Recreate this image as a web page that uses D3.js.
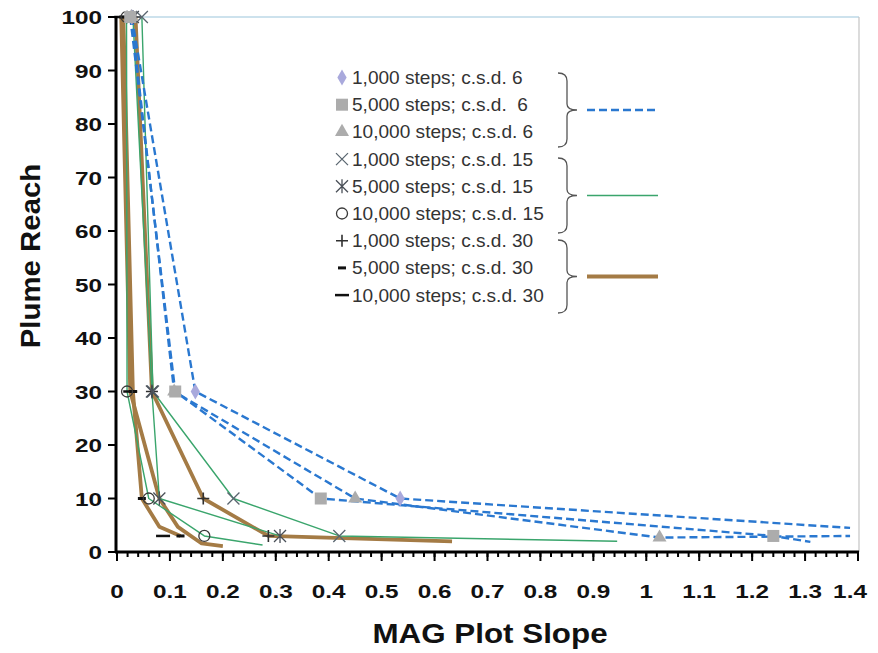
<!DOCTYPE html>
<html>
<head>
<meta charset="utf-8">
<script src="https://cdn.jsdelivr.net/npm/d3@7"></script>
<style>
  body { margin: 0; background: #fff; }
  svg { display: block; font-family: "Liberation Sans", Arial, sans-serif; }
</style>
</head>
<body>
<svg id="chart" width="878" height="653"></svg>
<script>
// x ticks / y ticks
var xTicks = [0, 0.1, 0.2, 0.3, 0.4, 0.5, 0.6, 0.7, 0.8, 0.9, 1, 1.1, 1.2, 1.3, 1.4]
var yTicks = [0, 10, 20, 30, 40, 50, 60, 70, 80, 90, 100]

// each point: [MAG plot slope, plume reach, marker drawn (1/0)]
// c.s.d. 6
var steps1000csd6 = [[0.028, 100, 1], [0.148, 30, 1], [0.535, 10, 1], [1.385, 4.5, 0]]
var steps5000csd6 = [[0.025, 100, 1], [0.11, 30, 1], [0.385, 10, 1], [1.24, 3, 1], [1.31, 1.9, 0]]
var steps10000csd6 = [[0.027, 100, 1], [0.108, 30, 1], [0.45, 10, 1], [1.025, 2.7, 1], [1.385, 3, 0]]
// c.s.d. 15
var steps1000csd15 = [[0.047, 100, 1], [0.068, 30, 1], [0.22, 10, 1], [0.42, 3, 1], [0.945, 2, 0]]
var steps5000csd15 = [[0.03, 100, 1], [0.066, 30, 1], [0.08, 10, 1], [0.308, 3, 1]]
var steps10000csd15 = [[0.018, 100, 1], [0.019, 30, 1], [0.06, 10, 1], [0.165, 3, 1], [0.275, 1.3, 0]]
// c.s.d. 30
var steps1000csd30 = [[0.035, 100, 1], [0.066, 30, 1], [0.163, 10, 1], [0.286, 3, 1], [0.633, 2, 0]]
var steps5000csd30 = [[0.012, 100, 1], [0.03, 30, 1], [0.047, 10, 1], [0.08, 4.7, 0], [0.12, 3, 1]]
var steps10000csd30 = [[0.008, 100, 1], [0.025, 30, 1], [0.087, 3, 1]]
var steps10000csd30Line = [[0.008, 100], [0.025, 30], [0.08, 10], [0.115, 4.7], [0.16, 1.6], [0.2, 1.1]]

var legendLabels = ["1,000 steps; c.s.d. 6", "5,000 steps; c.s.d.  6", "10,000 steps; c.s.d. 6",
  "1,000 steps; c.s.d. 15", "5,000 steps; c.s.d. 15", "10,000 steps; c.s.d. 15",
  "1,000 steps; c.s.d. 30", "5,000 steps; c.s.d. 30", "10,000 steps; c.s.d. 30"]

var groupStyle = {
  6: {color: "#2a78d0", width: 2.4, dash: "8,4"},
  15: {color: "#3aa56c", width: 1.4, dash: null},
  30: {color: "#a47b45", width: 3.8, dash: null}
}

var series = [
  {pts: steps1000csd6, csd: 6, marker: "diamond"},
  {pts: steps5000csd6, csd: 6, marker: "square"},
  {pts: steps10000csd6, csd: 6, marker: "triangle"},
  {pts: steps1000csd15, csd: 15, marker: "x"},
  {pts: steps5000csd15, csd: 15, marker: "asterisk"},
  {pts: steps10000csd15, csd: 15, marker: "circle"},
  {pts: steps1000csd30, csd: 30, marker: "plus"},
  {pts: steps5000csd30, csd: 30, marker: "dash"},
  {pts: steps10000csd30, line: steps10000csd30Line, csd: 30, marker: "longdash"}
]

var svg = d3.select("#chart")
var x = d3.scaleLinear().domain([0, 1.4]).range([117, 858])
var y = d3.scaleLinear().domain([0, 100]).range([552, 17])

// plot area border (top/right)
svg.append("line").attr("x1", 117).attr("x2", 859).attr("y1", 17).attr("y2", 17)
   .attr("stroke", "#9cc6dc").attr("stroke-width", 1.2)
svg.append("line").attr("x1", 859).attr("x2", 859).attr("y1", 17).attr("y2", 552)
   .attr("stroke", "#c4c4c4").attr("stroke-width", 1.2)

var line = d3.line().x(d => x(d[0])).y(d => y(d[1]))

// brown first, then green, blue on top
var drawOrder = [6, 7, 8, 3, 4, 5, 0, 1, 2]
drawOrder.forEach(function(i) {
  var s = series[i]
  var st = groupStyle[s.csd]
  svg.append("path")
     .attr("d", line(s.line || s.pts))
     .attr("fill", "none")
     .attr("stroke", st.color)
     .attr("stroke-width", st.width)
     .attr("stroke-dasharray", st.dash)
     .attr("stroke-linejoin", "round")
})

function drawMarker(g, type, cx, cy) {
  if (type === "diamond") {
    g.append("path").attr("d", d3.symbol(d3.symbolDiamond, 75)()).attr("transform", `translate(${cx},${cy})`)
     .attr("fill", "#a9a9dc")
  } else if (type === "square") {
    g.append("rect").attr("x", cx - 6).attr("y", cy - 6).attr("width", 12).attr("height", 12)
     .attr("fill", "#acacac")
  } else if (type === "triangle") {
    g.append("path").attr("d", d3.symbol(d3.symbolTriangle, 85)()).attr("transform", `translate(${cx},${cy})`)
     .attr("fill", "#acacac")
  } else if (type === "x") {
    g.append("path").attr("d", `M${cx - 6},${cy - 6}L${cx + 6},${cy + 6}M${cx - 6},${cy + 6}L${cx + 6},${cy - 6}`)
     .attr("stroke", "#5a6670").attr("stroke-width", 1.3)
  } else if (type === "asterisk") {
    g.append("path").attr("d", `M${cx - 6},${cy - 6}L${cx + 6},${cy + 6}M${cx - 6},${cy + 6}L${cx + 6},${cy - 6}M${cx},${cy - 7}L${cx},${cy + 7}`)
     .attr("stroke", "#4a5058").attr("stroke-width", 1.3)
  } else if (type === "circle") {
    g.append("circle").attr("cx", cx).attr("cy", cy).attr("r", 5.5)
     .attr("fill", "none").attr("stroke", "#3a3a3a").attr("stroke-width", 1.3)
  } else if (type === "plus") {
    g.append("path").attr("d", `M${cx - 6},${cy}L${cx + 6},${cy}M${cx},${cy - 6}L${cx},${cy + 6}`)
     .attr("stroke", "#303030").attr("stroke-width", 1.6)
  } else if (type === "dash") {
    g.append("path").attr("d", `M${cx - 4},${cy}L${cx + 4},${cy}`)
     .attr("stroke", "#111").attr("stroke-width", 3)
  } else if (type === "longdash") {
    g.append("path").attr("d", `M${cx - 7},${cy}L${cx + 7},${cy}`)
     .attr("stroke", "#111").attr("stroke-width", 2.5)
  }
}

var markG = svg.append("g")
drawOrder.forEach(function(i) {
  var s = series[i]
  s.pts.filter(d => d[2]).forEach(function(d) {
    drawMarker(markG, s.marker, x(d[0]), y(d[1]))
  })
})

// axes
var xAxis = svg.append("g")
xAxis.append("line").attr("x1", 115).attr("x2", 859).attr("y1", 552).attr("y2", 552)
     .attr("stroke", "#000").attr("stroke-width", 3)
var minor = d3.range(0, 71).map(d => d * 0.02)
xAxis.selectAll("line.minor").data(minor).enter().append("line")
     .attr("x1", d => x(d)).attr("x2", d => x(d)).attr("y1", 552).attr("y2", 557)
     .attr("stroke", "#000").attr("stroke-width", 2)
xAxis.selectAll("line.major").data(xTicks).enter().append("line")
     .attr("x1", d => x(d)).attr("x2", d => x(d)).attr("y1", 552).attr("y2", 561)
     .attr("stroke", "#000").attr("stroke-width", 2)
xAxis.selectAll("text").data(xTicks).enter().append("text")
     .attr("transform", d => `translate(${d === 1.4 ? x(d) - 8 : x(d)},598) scale(1.28,1)`)
     .attr("text-anchor", "middle")
     .attr("font-size", 19).attr("font-weight", "bold").attr("fill", "#111")
     .text(d => d)

var yAxis = svg.append("g")
yAxis.append("line").attr("x1", 116).attr("x2", 116).attr("y1", 16).attr("y2", 553)
     .attr("stroke", "#000").attr("stroke-width", 3)
yAxis.selectAll("line.major").data(yTicks).enter().append("line")
     .attr("x1", 108).attr("x2", 117).attr("y1", d => y(d)).attr("y2", d => y(d))
     .attr("stroke", "#000").attr("stroke-width", 2)
yAxis.selectAll("text").data(yTicks).enter().append("text")
     .attr("transform", d => `translate(102,${y(d) + 7}) scale(1.28,1)`)
     .attr("text-anchor", "end")
     .attr("font-size", 19).attr("font-weight", "bold").attr("fill", "#111")
     .text(d => d)

svg.append("text").attr("transform", "translate(490,643) scale(1.12,1)").attr("text-anchor", "middle")
   .attr("font-size", 28).attr("font-weight", "bold").attr("fill", "#111")
   .text("MAG Plot Slope")
svg.append("text").attr("transform", "translate(40,256) rotate(-90) scale(1.05,1)").attr("text-anchor", "middle")
   .attr("font-size", 28).attr("font-weight", "bold").attr("fill", "#111")
   .text("Plume Reach")

// legend
var legend = svg.append("g")
var rowY = d3.range(9).map(i => 77.5 + i * 27.2)
legendLabels.forEach(function(lab, i) {
  drawMarker(legend, series[i].marker, 342, rowY[i])
  legend.append("text").attr("transform", `translate(352,${rowY[i] + 6.5}) scale(1.06,1)`)
        .attr("font-size", 18).attr("fill", "#333")
        .attr("xml:space", "preserve").style("white-space", "pre")
        .text(lab)
})

// braces + group line samples
function brace(y0, y1) {
  var xm = 567, xl = 558, xt = 577, ym = (y0 + y1) / 2
  return `M${xl},${y0} Q${xm},${y0} ${xm},${y0 + 8} L${xm},${ym - 6} Q${xm},${ym} ${xt},${ym}` +
         ` Q${xm},${ym} ${xm},${ym + 6} L${xm},${y1 - 8} Q${xm},${y1} ${xl},${y1}`
}
var groups = [[73, 147, 6], [158, 233, 15], [240, 313, 30]]
groups.forEach(function(gp) {
  legend.append("path").attr("d", brace(gp[0], gp[1]))
        .attr("fill", "none").attr("stroke", "#555").attr("stroke-width", 1.3)
  var st = groupStyle[gp[2]]
  var ym = (gp[0] + gp[1]) / 2
  legend.append("line").attr("x1", 587).attr("x2", 658).attr("y1", ym).attr("y2", ym)
        .attr("stroke", st.color).attr("stroke-width", st.width)
        .attr("stroke-dasharray", st.dash)
})
</script>
</body>
</html>
